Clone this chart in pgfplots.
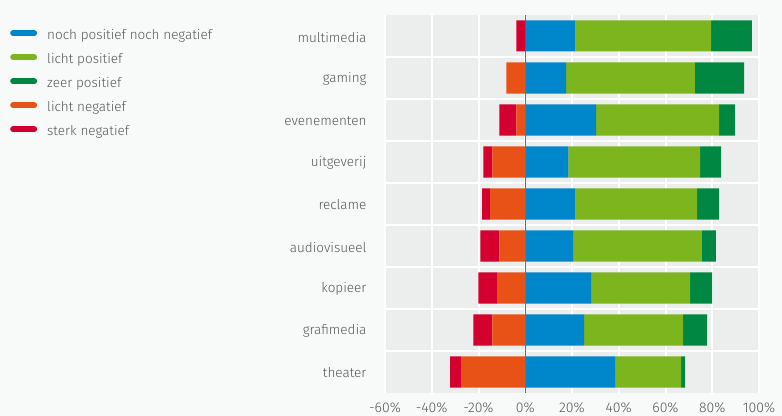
\documentclass[border=0pt]{standalone}
\usepackage{fontspec}
\setmainfont{Fira Sans}[UprightFont=* Light]
\usepackage{pgfplots}
\pgfplotsset{compat=1.18}
\usepackage{pgfplotstable}

\definecolor{neutraal}{HTML}{0086CB}
\definecolor{lichtpos}{HTML}{7DB51F}
\definecolor{zeerpos}{HTML}{008842}
\definecolor{lichtneg}{HTML}{E95217}
\definecolor{sterkneg}{HTML}{D30030}
\definecolor{cellgray}{HTML}{ECEDED}
\definecolor{pagebg}{HTML}{F8F9F9}
\definecolor{txtgray}{HTML}{58595B}
\definecolor{zeroline}{HTML}{6D6E70}

% share of answers per sector (percent)
\pgfplotstableread{
idx sector       neutraal lichtpos zeerpos lichtneg sterkneg
8   multimedia   21.4     58.1     17.5    0.0      3.8
7   gaming       17.5     55.1     21.0    8.1      0.0
6   evenementen  30.3     52.6     6.8     3.8      7.3
5   uitgeverij   18.4     56.4     9.0     14.1     3.8
4   reclame      21.4     52.1     9.4     15.0     3.4
3   audiovisueel 20.5     55.1     6.0     11.1     8.1
2   kopieer      28.2     42.3     9.4     12.0     8.1
1   grafimedia   25.2     42.3     10.3    14.1     8.1
0   theater      38.5     28.2     1.7     27.4     4.7
}\survey

\pgfplotsset{
  frame/.style={
    at={(385bp,23bp)}, anchor=south west,
    scale only axis, width=374bp, height=378bp,
    xmin=-60, xmax=100, ymin=-0.5, ymax=8.5,
    xbar stacked, bar width=31bp,
  },
}

\begin{document}
\begin{tikzpicture}
\fill[pagebg] (0,0) rectangle (782bp,416bp);
\path[use as bounding box] (0,0) rectangle (782bp,416bp);

% positive answers, grid and labels
\begin{axis}[
  frame,
  axis background/.style={fill=cellgray},
  axis line style={draw=none},
  xtick={-60,-40,...,100},
  xticklabels={-60\%,-40\%,-20\%,0\%,20\%,40\%,60\%,80\%,100\%},
  ytick={0,...,8},
  yticklabels={theater,grafimedia,kopieer,audiovisueel,reclame,uitgeverij,evenementen,gaming,multimedia},
  minor ytick={0.5,1.5,...,7.5},
  xmajorgrids, yminorgrids,
  grid style={white, line width=2bp},
  minor grid style={white, line width=2bp},
  major tick length=0pt, minor tick length=0pt,
  xticklabel style={text=txtgray, font=\fontsize{14bp}{16bp}\selectfont, yshift=-6bp},
  yticklabel style={text=txtgray, font=\fontsize{13.5bp}{16bp}\selectfont, xshift=-15bp, yshift=-1bp},
  legend style={
    at={(axis description cs:-1.0027,0.960)}, anchor=north west,
    draw=none, fill=none, inner sep=0pt,
    font=\fontsize{13.5bp}{16bp}\selectfont, text=txtgray,
    nodes={inner sep=0pt, text height=9bp, text depth=3bp},
    row sep=12bp, column sep=10bp,
  },
  legend cell align=left,
  legend image code/.code={\draw[line width=6bp, line cap=round, #1] (0bp,3bp) -- (21bp,3bp);},
]
\addplot[fill=neutraal, draw=none, forget plot] table[x=neutraal, y=idx] {\survey};
\addplot[fill=lichtpos, draw=none, forget plot] table[x=lichtpos, y=idx] {\survey};
\addplot[fill=zeerpos, draw=none, forget plot] table[x=zeerpos, y=idx] {\survey};

\addlegendimage{neutraal}
\addlegendentry{noch positief noch negatief}
\addlegendimage{lichtpos}
\addlegendentry{licht positief}
\addlegendimage{zeerpos}
\addlegendentry{zeer positief}
\addlegendimage{lichtneg}
\addlegendentry{licht negatief}
\addlegendimage{sterkneg}
\addlegendentry{sterk negatief}
\end{axis}

% negative answers, stacked leftwards from zero
\begin{axis}[frame, hide axis]
\addplot[fill=lichtneg, draw=none] table[x expr=-\thisrow{lichtneg}, y=idx] {\survey};
\addplot[fill=sterkneg, draw=none] table[x expr=-\thisrow{sterkneg}, y=idx] {\survey};
\draw[zeroline, line width=1.2bp] (axis cs:0,-0.5) -- (axis cs:0,8.5);
\end{axis}
\end{tikzpicture}
\end{document}
